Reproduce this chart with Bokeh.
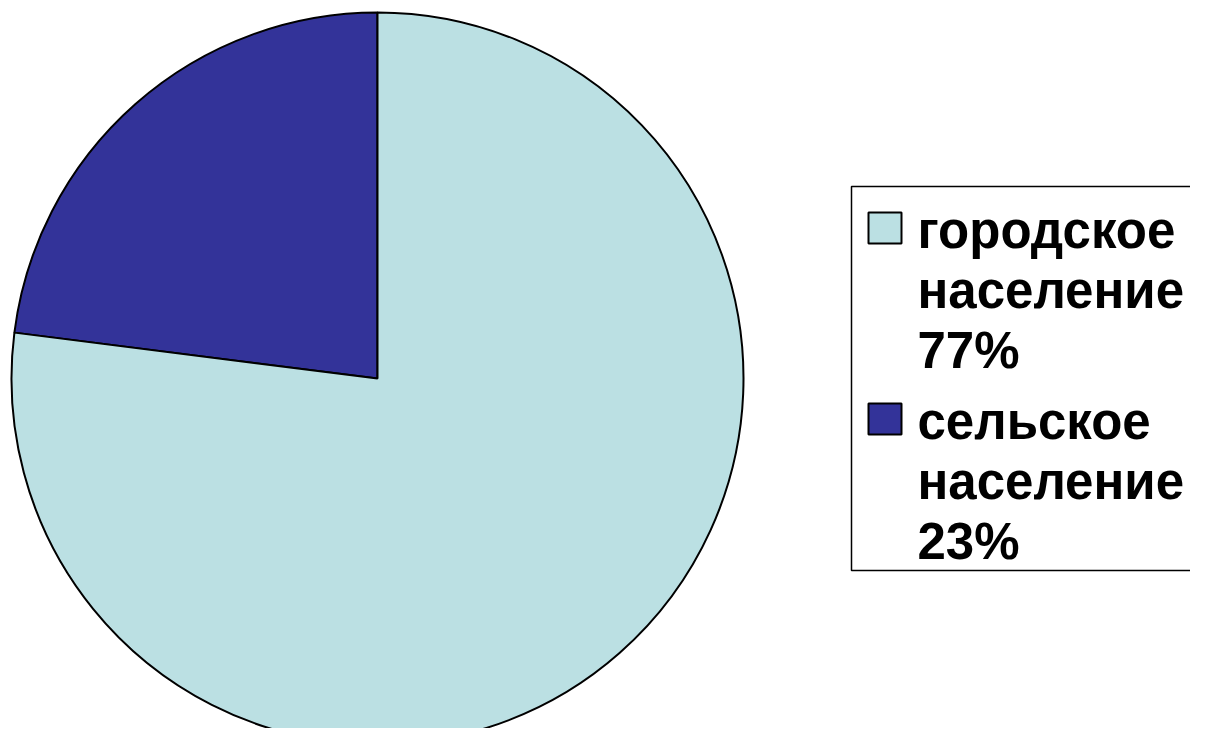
from bokeh.plotting import figure
from bokeh.models import Range1d, ColumnDataSource
from bokeh.embed import file_html
from bokeh.resources import INLINE
from bokeh.core.properties import value
import math

# data
categories = ["городское население", "сельское население"]
values = [77, 23]
colors = ["#BBE0E3", "#333399"]

W, H = 1190, 728
IMG_H = 744
p = figure(width=W, height=H, output_backend="svg", toolbar_location=None,
           x_range=Range1d(0, W), y_range=Range1d(IMG_H - H, IMG_H),
           min_border=0, background_fill_color="white", border_fill_color="white")
p.axis.visible = False
p.grid.visible = False
p.outline_line_color = None

# pie (picture coordinates: data y = 744 - picture y)
cx, cy, r = 377, IMG_H - 378, 366
total = sum(values)
# rural starts at 12 o'clock and goes anticlockwise, urban fills the rest
order = [1, 0]
start = math.pi / 2
starts, ends, cols = [], [], []
for i in order:
    ang = values[i] / total * 2 * math.pi
    starts.append(start)
    ends.append(start + ang)
    cols.append(colors[i])
    start += ang
src = ColumnDataSource(dict(x=[cx] * len(order), y=[cy] * len(order),
                            s=starts, e=ends, c=cols))
p.wedge(x="x", y="y", radius=r, radius_units="screen", start_angle="s", end_angle="e",
        direction="anticlock", fill_color="c", line_color="black", line_width=2,
        source=src)

# legend box
p.quad(left=851, right=1260, top=IMG_H - 186, bottom=IMG_H - 570,
       fill_color="white", line_color="black", line_width=1.5)

# legend entries
group_top = [212, 403]
for k, (cat, v) in enumerate(zip(categories, values)):
    words = cat.split(" ")
    lines = [words[0], words[1] + " -", f"{v}%"]
    sq_top = group_top[k]
    p.rect(x=884.5, y=IMG_H - (sq_top + 15.5), width=33, height=31,
           fill_color=colors[k], line_color="black", line_width=2)
    base0 = sq_top + 18
    for j, ln in enumerate(lines):
        p.text(x=[917], y=[IMG_H - (base0 + 60 * j)], text=[ln],
               text_font=value("Liberation Sans"), text_font_style="bold",
               text_font_size="51px", text_baseline="alphabetic", text_align="left",
               text_color="black")

open("out.html", "w").write(file_html(p, INLINE))
